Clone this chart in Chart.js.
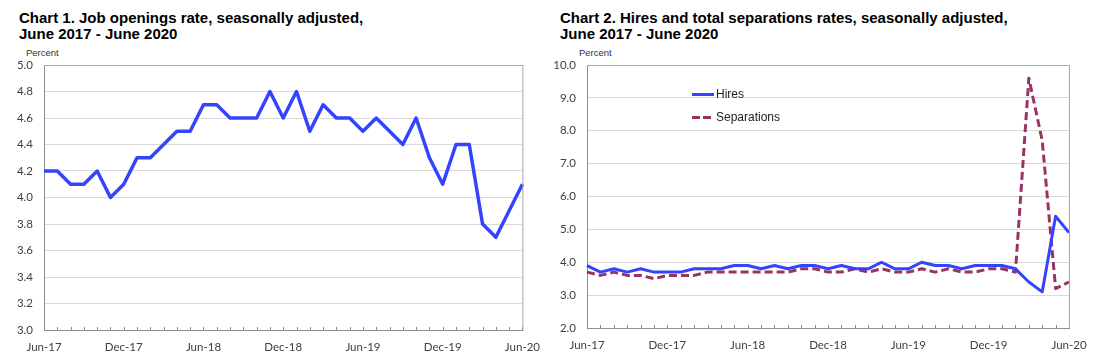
<!DOCTYPE html>
<html>
<head>
<meta charset="utf-8">
<script src="https://cdn.jsdelivr.net/npm/chart.js@4.4.1/dist/chart.umd.min.js"></script>
<style>
  html, body { margin:0; padding:0; background:#fff; }
  body { width:1100px; height:361px; position:relative; overflow:hidden; font-family:"Liberation Sans", Arial, sans-serif; }
  .title { position:absolute; font-weight:bold; font-size:15px; line-height:16px; color:#000; white-space:nowrap; }
  .unit { position:absolute; font-size:9.5px; color:#333; }
  .cv { position:absolute; top:0; }
  .legend { position:absolute; font-size:12px; color:#222; }
  .lg-row { position:absolute; white-space:nowrap; display:flex; align-items:center; }
  .lg-line { display:inline-block; width:22px; height:0; border-top:3px solid #3344ff; margin-right:2px; }
  .lg-dash { display:inline-block; width:22px; height:3px; margin-right:2px;
             background:repeating-linear-gradient(90deg,#993366 0 8px,transparent 8px 11px); }
</style>
</head>
<body>
<div class="title" style="left:19px;top:10px;">Chart 1. Job openings rate, seasonally adjusted,<br>June 2017 - June 2020</div>
<div class="unit" style="left:26px;top:47px;">Percent</div>
<div class="title" style="left:560px;top:10px;">Chart 2. Hires and total separations rates, seasonally adjusted,<br>June 2017 - June 2020</div>
<div class="unit" style="left:579px;top:47px;">Percent</div>
<canvas id="c1" class="cv" style="left:0;" width="550" height="361"></canvas>
<canvas id="c2" class="cv" style="left:550px;" width="550" height="361"></canvas>
<div class="legend">
  <div class="lg-row" style="left:692px;top:87px;"><span class="lg-line"></span>Hires</div>
  <div class="lg-row" style="left:692px;top:110px;"><span class="lg-dash"></span>Separations</div>
</div>
<script>
const months = ["Jun-17","Jul-17","Aug-17","Sep-17","Oct-17","Nov-17","Dec-17",
  "Jan-18","Feb-18","Mar-18","Apr-18","May-18","Jun-18","Jul-18","Aug-18","Sep-18","Oct-18","Nov-18","Dec-18",
  "Jan-19","Feb-19","Mar-19","Apr-19","May-19","Jun-19","Jul-19","Aug-19","Sep-19","Oct-19","Nov-19","Dec-19",
  "Jan-20","Feb-20","Mar-20","Apr-20","May-20","Jun-20"];
const shownLabels = ["Jun-17","Dec-17","Jun-18","Dec-18","Jun-19","Dec-19","Jun-20"];

const jobOpenings = [4.2,4.2,4.1,4.1,4.2,4.0,4.1,4.3,4.3,4.4,4.5,4.5,4.7,4.7,4.6,4.6,4.6,4.8,4.6,
  4.8,4.5,4.7,4.6,4.6,4.5,4.6,4.5,4.4,4.6,4.3,4.1,4.4,4.4,3.8,3.7,3.9,4.1];
const hires = [3.9,3.7,3.8,3.7,3.8,3.7,3.7,3.7,3.8,3.8,3.8,3.9,3.9,3.8,3.9,3.8,3.9,3.9,3.8,
  3.9,3.8,3.8,4.0,3.8,3.8,4.0,3.9,3.9,3.8,3.9,3.9,3.9,3.8,3.4,3.1,5.4,4.9];
const separations = [3.7,3.6,3.7,3.6,3.6,3.5,3.6,3.6,3.6,3.7,3.7,3.7,3.7,3.7,3.7,3.7,3.8,3.8,3.7,
  3.7,3.8,3.7,3.8,3.7,3.7,3.8,3.7,3.8,3.7,3.7,3.8,3.8,3.7,9.6,7.7,3.2,3.4];

const tickFont = { family: "Lato, 'Open Sans', sans-serif", size: 11.5 };
const tickColor = "#404040";

const innerTicks = {
  id: 'innerTicks',
  afterDatasetsDraw(chart) {
    const x = chart.scales.x, y = chart.scales.y, ctx = chart.ctx;
    ctx.save();
    ctx.strokeStyle = '#8c8c8c';
    ctx.lineWidth = 1;
    const yb = y.bottom;
    for (let i = 0; i < months.length; i++) {
      const px = Math.round(x.getPixelForValue(i)) + 0.5;
      ctx.beginPath(); ctx.moveTo(px, yb - 3); ctx.lineTo(px, yb + 1); ctx.stroke();
    }
    ctx.restore();
  }
};

function makeOptions(yMin, yMax, step, yWidth, xHeight, padRight) {
  return {
    responsive: false,
    animation: false,
    layout: { padding: { left: 0, right: padRight, top: 65, bottom: 0 } },
    plugins: { legend: { display: false }, tooltip: { enabled: false } },
    elements: { point: { radius: 0 }, line: { tension: 0, borderJoinStyle: 'round' } },
    scales: {
      x: {
        type: 'category',
        offset: false,
        grid: { display: true, drawOnChartArea: false, drawTicks: false, color: '#8c8c8c' },
        border: { display: true, color: '#8c8c8c', width: 1 },
        ticks: {
          autoSkip: false, maxRotation: 0, minRotation: 0, padding: 10,
          font: tickFont, color: tickColor,
          callback: function(v, i) { const l = months[i]; return shownLabels.includes(l) ? l : ''; }
        },
        afterFit(s) { s.height = xHeight; }
      },
      y: {
        min: yMin, max: yMax,
        grid: { color: '#d9d9d9', lineWidth: 1, drawTicks: false },
        border: { display: true, color: '#8c8c8c', width: 1 },
        ticks: {
          stepSize: step, padding: 11, font: tickFont, color: tickColor,
          callback: v => Number(v).toFixed(1)
        },
        afterFit(s) { s.width = yWidth; }
      }
    }
  };
}

const frame = {
  id: 'frame',
  afterDraw(chart) {
    const a = chart.chartArea, ctx = chart.ctx;
    ctx.save();
    ctx.strokeStyle = '#a6a6a6';
    ctx.lineWidth = 1;
    ctx.beginPath();
    ctx.moveTo(a.left, a.top + 0.5); ctx.lineTo(a.right + 0.5, a.top + 0.5);
    ctx.lineTo(a.right + 0.5, a.bottom);
    ctx.stroke();
    ctx.restore();
  }
};

new Chart(document.getElementById('c1'), {
  type: 'line',
  data: { labels: months, datasets: [{
    label: 'Job openings rate', data: jobOpenings,
    borderColor: '#3344ff', borderWidth: 3.5, fill: false
  }]},
  options: makeOptions(3.0, 5.0, 0.2, 44, 31, 21),
  plugins: [innerTicks, frame]
});

new Chart(document.getElementById('c2'), {
  type: 'line',
  data: { labels: months, datasets: [
    { label: 'Hires', data: hires, borderColor: '#3344ff', borderWidth: 3, fill: false },
    { label: 'Separations', data: separations, borderColor: '#993366', borderWidth: 3, borderDash: [8, 4], fill: false }
  ]},
  options: makeOptions(2.0, 10.0, 1.0, 37, 33, 31),
  plugins: [innerTicks, frame]
});
</script>
</body>
</html>
